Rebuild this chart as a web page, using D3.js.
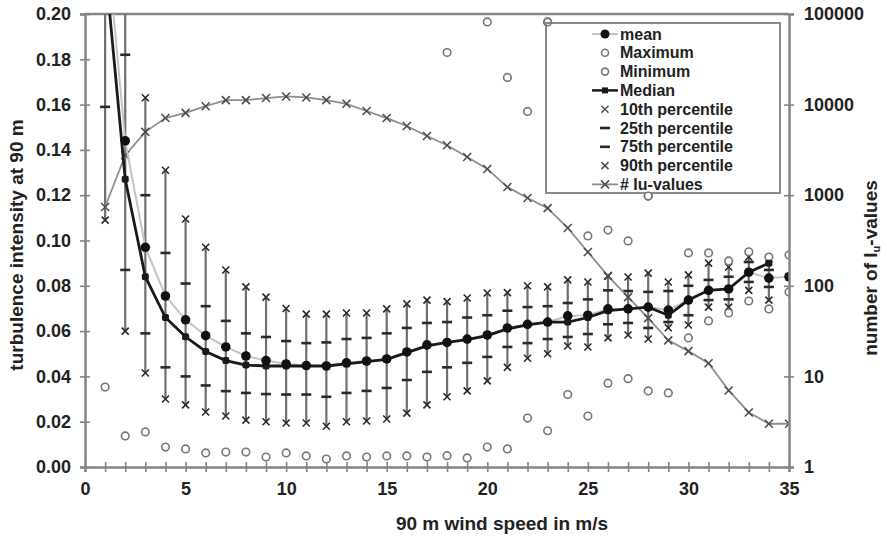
<!DOCTYPE html>
<html>
<head>
<meta charset="utf-8">
<script src="https://cdn.jsdelivr.net/npm/d3@7/dist/d3.min.js"></script>
<style>
  html, body { margin: 0; padding: 0; background: #fff; }
  svg { display: block; font-family: "Liberation Sans", Arial, sans-serif; }
  .lbl { font-weight: bold; fill: #222; }
</style>
</head>
<body>
<svg id="chart" width="887" height="536"></svg>
<script>
// ---- data ----
const windSpeed = [1,2,3,4,5,6,7,8,9,10,11,12,13,14,15,16,17,18,19,20,21,22,23,24,25,26,27,28,29,30,31,32,33,34,35];
const meanTI   = [0.24,0.144,0.097,0.0755,0.065,0.058,0.053,0.049,0.047,0.0455,0.0448,0.0446,0.046,0.0468,0.0477,0.0508,0.0539,0.055,0.0565,0.0583,0.0614,0.063,0.064,0.0667,0.067,0.0698,0.0698,0.0706,0.0693,0.0737,0.078,0.0786,0.086,0.0834,0.084];
const medianTI = [0.222,0.127,0.084,0.066,0.0575,0.051,0.047,0.045,0.0446,0.0446,0.0446,0.0446,0.0455,0.0465,0.0475,0.0505,0.0535,0.055,0.0562,0.058,0.061,0.0628,0.064,0.064,0.066,0.069,0.0698,0.0706,0.067,0.0737,0.078,0.0786,0.086,0.090,null];
const p10 = [0.109,0.060,0.0415,0.030,0.0274,0.0243,0.0225,0.0207,0.020,0.0194,0.0194,0.018,0.020,0.0203,0.0212,0.0238,0.0274,0.031,0.0336,0.038,0.044,0.048,0.050,0.0534,0.053,0.057,0.0583,0.0565,0.0615,0.0627,0.0706,0.0706,0.078,0.0737,null];
const p25 = [0.159,0.087,0.059,0.044,0.040,0.036,0.0335,0.0327,0.0322,0.032,0.032,0.031,0.0327,0.0336,0.0349,0.0384,0.042,0.044,0.046,0.0486,0.053,0.0547,0.0565,0.0574,0.0587,0.063,0.0636,0.0614,0.064,0.067,0.0737,0.074,0.0817,0.0795,null];
const p75 = [0.25,0.182,0.120,0.0945,0.081,0.071,0.0645,0.059,0.0574,0.0556,0.0547,0.055,0.0565,0.057,0.059,0.0614,0.0636,0.064,0.066,0.067,0.069,0.0706,0.071,0.0724,0.074,0.078,0.0777,0.0773,0.0777,0.080,0.0826,0.084,0.0905,0.087,null];
const p90 = [0.35,0.25,0.163,0.131,0.1095,0.097,0.087,0.0795,0.075,0.070,0.0675,0.0675,0.068,0.068,0.0698,0.072,0.0737,0.073,0.0746,0.0768,0.077,0.080,0.0795,0.0826,0.0817,0.0843,0.0839,0.0856,0.0817,0.0848,0.090,0.0883,0.0927,0.092,null];
const minTI = [0.0353,0.0137,0.0155,0.0088,0.008,0.0062,0.0066,0.0066,0.0044,0.0062,0.0049,0.0035,0.0049,0.0044,0.0049,0.0049,0.0044,0.005,0.004,0.0088,0.008,0.0216,0.016,0.032,0.0225,0.037,0.039,0.0336,0.0327,0.057,0.0645,0.068,0.0733,0.0698,0.0773];
const maxTI = [null,null,null,null,null,null,null,null,null,null,null,null,null,null,null,null,null,0.183,null,0.1965,0.172,0.157,0.1965,null,0.102,0.1046,0.0998,0.1196,null,0.0945,0.0945,0.091,0.095,0.0927,0.0936];
const countIu = [740,2760,5000,7100,8100,9600,11200,11200,11800,12300,12000,11200,10200,8500,7100,5800,4500,3560,2640,1950,1230,930,720,435,236,129,75,44,25,19,14,7,4,3,3];

const xTicks = [0,1,2,3,4,5,6,7,8,9,10,11,12,13,14,15,16,17,18,19,20,21,22,23,24,25,26,27,28,29,30,31,32,33,34,35];
const xLabelEvery = 5;
const yTicks = [0,0.02,0.04,0.06,0.08,0.10,0.12,0.14,0.16,0.18,0.20];
const yRTicks = [1,10,100,1000,10000,100000];
const legendItems = ["mean","Maximum","Minimum","Median","10th percentile","25th percentile","75th percentile","90th percentile","# Iu-values"];

// ---- layout ----
const L = 85, R = 789, T = 14, B = 467;
const svg = d3.select("#chart");
const x = d3.scaleLinear().domain([0,35]).range([L,R]);
const y = d3.scaleLinear().domain([0,0.2]).range([B,T]);
const yR = d3.scaleLog().domain([1,100000]).range([B,T]);

const AX = "#858585", DARK = "#1a1a1a";

svg.append("defs").append("clipPath").attr("id","plotclip")
  .append("rect").attr("x",L).attr("y",T).attr("width",R-L).attr("height",B-T);

// top frame line
svg.append("line").attr("x1",L).attr("x2",R).attr("y1",T).attr("y2",T)
  .attr("stroke",AX).attr("stroke-width",2.5);

const rows = windSpeed.map((w,i)=>({w, mean:meanTI[i], med:medianTI[i], p10:p10[i], p25:p25[i], p75:p75[i], p90:p90[i], mn:minTI[i], mx:maxTI[i], n:countIu[i]}));

const plot = svg.append("g").attr("clip-path","url(#plotclip)");

// whiskers
const wr = rows.filter(d=>d.p10!=null);
plot.selectAll(".wh").data(wr).join("line")
  .attr("x1",d=>x(d.w)).attr("x2",d=>x(d.w))
  .attr("y1",d=>y(d.p10)).attr("y2",d=>y(d.p90))
  .attr("stroke","#6f6f6f").attr("stroke-width",2.2);

function xMark(g, cx, cy, s, col, sw){
  g.append("path").attr("d",`M${cx-s},${cy-s}L${cx+s},${cy+s}M${cx-s},${cy+s}L${cx+s},${cy-s}`)
    .attr("stroke",col).attr("stroke-width",sw).attr("fill","none");
}
function dash(g, cx, cy, col){
  g.append("line").attr("x1",cx-5).attr("x2",cx+5).attr("y1",cy).attr("y2",cy)
    .attr("stroke",col).attr("stroke-width",2.6);
}
wr.forEach(d=>{
  dash(plot, x(d.w), y(d.p25), "#2a2a2a");
  dash(plot, x(d.w), y(d.p75), "#2a2a2a");
  xMark(plot, x(d.w), y(d.p10), 3.5, "#2a2a2a", 1.6);
  xMark(plot, x(d.w), y(d.p90), 3.5, "#2a2a2a", 1.6);
});

// count line (right log axis)
const cLine = d3.line().x(d=>x(d.w)).y(d=>yR(d.n));
plot.append("path").datum(rows).attr("d",cLine)
  .attr("fill","none").attr("stroke","#8e8e8e").attr("stroke-width",1.8);
rows.forEach(d=> xMark(plot, x(d.w), yR(d.n), 4, "#4a4a4a", 1.5));

// min / max circles
plot.selectAll(".mn").data(rows.filter(d=>d.mn!=null)).join("circle")
  .attr("cx",d=>x(d.w)).attr("cy",d=>y(d.mn)).attr("r",3.8)
  .attr("fill","#fff").attr("stroke","#777").attr("stroke-width",1.6);
plot.selectAll(".mx").data(rows.filter(d=>d.mx!=null)).join("circle")
  .attr("cx",d=>x(d.w)).attr("cy",d=>y(d.mx)).attr("r",3.8)
  .attr("fill","#fff").attr("stroke","#777").attr("stroke-width",1.6);

// mean line (light) and median line (black)
const mLine = d3.line().x(d=>x(d.w)).y(d=>y(d.mean));
plot.append("path").datum(rows).attr("d",mLine)
  .attr("fill","none").attr("stroke","#c4c4c4").attr("stroke-width",2);
const mdRows = rows.filter(d=>d.med!=null);
const mdLine = d3.line().x(d=>x(d.w)).y(d=>y(d.med));
plot.append("path").datum(mdRows).attr("d",mdLine)
  .attr("fill","none").attr("stroke",DARK).attr("stroke-width",2.8);
plot.selectAll(".md").data(mdRows).join("rect")
  .attr("x",d=>x(d.w)-3.5).attr("y",d=>y(d.med)-3.5).attr("width",7).attr("height",7)
  .attr("rx",2).attr("fill",DARK);
plot.selectAll(".me").data(rows).join("circle")
  .attr("cx",d=>x(d.w)).attr("cy",d=>y(d.mean)).attr("r",4.8)
  .attr("fill","#111");

// ---- axes ----
function styleAxis(g){
  g.select(".domain").attr("stroke",AX).attr("stroke-width",2.5);
  g.selectAll(".tick line").attr("stroke",AX).attr("stroke-width",1.6);
  g.selectAll(".tick text").attr("class","lbl").attr("fill","#222").style("font-weight","bold");
}
const gL = svg.append("g").attr("transform",`translate(${L},0)`)
  .call(d3.axisLeft(y).tickValues(yTicks).tickFormat(d3.format(".2f")).tickSizeOuter(0).tickSize(5).tickPadding(9));
styleAxis(gL);
gL.selectAll(".tick line").attr("x1",5).attr("x2",-5);
gL.selectAll(".tick text").style("font-size","18px");

const gB = svg.append("g").attr("transform",`translate(0,${B})`)
  .call(d3.axisBottom(x).tickValues(xTicks).tickFormat(d=> d%xLabelEvery===0 ? d : "").tickSizeOuter(0).tickSize(5).tickPadding(10));
styleAxis(gB);
gB.selectAll(".tick line").attr("y1",-5).attr("y2",5);
gB.selectAll(".tick text").style("font-size","18px");

const gR = svg.append("g").attr("transform",`translate(${R},0)`)
  .call(d3.axisRight(yR).tickValues(yRTicks).tickFormat(d3.format("d")).tickSizeOuter(0).tickSize(5).tickPadding(10));
styleAxis(gR);
gR.selectAll(".tick line").attr("x1",-5).attr("x2",5);
gR.selectAll(".tick text").style("font-size","18px");

// ---- titles ----
svg.append("text").attr("class","lbl").attr("x",502).attr("y",530)
  .attr("text-anchor","middle").style("font-size","19px")
  .text("90 m wind speed in m/s");
svg.append("text").attr("class","lbl")
  .attr("transform","translate(23,245) rotate(-90)")
  .attr("text-anchor","middle").style("font-size","19px")
  .text("turbulence intensity at 90 m");
const rt = svg.append("text").attr("class","lbl")
  .attr("transform","translate(877,268) rotate(-90)")
  .attr("text-anchor","middle").style("font-size","19px");
rt.append("tspan").text("number of I");
rt.append("tspan").attr("dy","3").style("font-size","11px").text("u");
rt.append("tspan").attr("dy","-3").text("-values");

// ---- legend ----
const lg = svg.append("g");
lg.append("rect").attr("x",546).attr("y",23).attr("width",234).attr("height",170)
  .attr("fill","#fff").attr("stroke","#8a8a8a").attr("stroke-width",2);
const sx = 605, tx = 620, ly0 = 34, dy = 18.8;
legendItems.forEach((t,i)=>{
  const cy = ly0 + i*dy;
  const g = lg.append("g");
  if (i===0){ g.append("line").attr("x1",592).attr("x2",618).attr("y1",cy).attr("y2",cy).attr("stroke","#c4c4c4").attr("stroke-width",2);
    g.append("circle").attr("cx",sx).attr("cy",cy).attr("r",4.5).attr("fill","#111"); }
  if (i===1 || i===2){ g.append("circle").attr("cx",sx).attr("cy",cy).attr("r",3.5).attr("fill","#fff").attr("stroke","#777").attr("stroke-width",1.6); }
  if (i===3){ g.append("line").attr("x1",592).attr("x2",618).attr("y1",cy).attr("y2",cy).attr("stroke",DARK).attr("stroke-width",2.5);
    g.append("rect").attr("x",sx-3).attr("y",cy-3).attr("width",6).attr("height",6).attr("fill",DARK); }
  if (i===4 || i===7){ xMark(g, sx, cy, 3.5, "#555", 1.6); }
  if (i===5 || i===6){ dash(g, sx, cy, "#2a2a2a"); }
  if (i===8){ g.append("line").attr("x1",592).attr("x2",618).attr("y1",cy).attr("y2",cy).attr("stroke","#8e8e8e").attr("stroke-width",1.8);
    xMark(g, sx, cy, 4, "#4a4a4a", 1.5); }
  g.append("text").attr("class","lbl").attr("x",tx).attr("y",cy).attr("dy","0.35em")
    .style("font-size","16px").text(t);
});
// maxima that sit on the legend's edge stay visible, as in the reference
svg.append("circle").attr("cx",x(23)).attr("cy",y(maxTI[22])).attr("r",3.8)
  .attr("fill","none").attr("stroke","#777").attr("stroke-width",1.6);
svg.append("circle").attr("cx",x(28)).attr("cy",y(maxTI[27])).attr("r",3.8)
  .attr("fill","#fff").attr("stroke","#777").attr("stroke-width",1.6);
</script>
</body>
</html>
